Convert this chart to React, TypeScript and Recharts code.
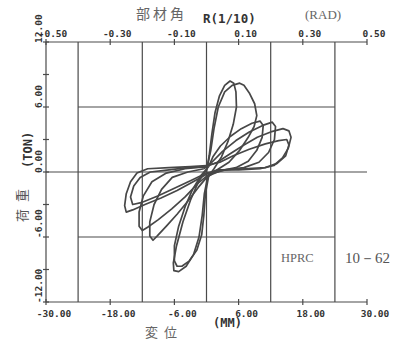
import { LineChart, Line, XAxis, YAxis, ReferenceLine } from 'recharts';

// displacement (mm) / load (ton) pairs, one array per loading cycle
const cycle1: [number, number][] = [
  [0, 0], [0.5, 1.5], [1.0, 3.5], [1.6, 5.5], [2.4, 7.0], [3.4, 8.0], [4.4, 8.4], [5.1, 8.2],
  [5.5, 7.4], [5.6, 6.0], [5.0, 4.4], [4.0, 2.8], [2.8, 1.4], [1.4, 0.3], [0.2, -0.5],
  [-0.4, -2.0], [-0.8, -4.0], [-1.4, -6.0], [-2.4, -7.6], [-3.8, -8.7], [-5.2, -9.2],
  [-6.1, -9.1], [-6.2, -8.4], [-5.6, -6.8], [-4.4, -4.6], [-3.0, -2.6], [-1.5, -0.9], [0, 0.2],
];
const cycle2: [number, number][] = [
  [0, 0.2], [0.8, 2.0], [1.4, 4.0], [2.2, 6.0], [3.4, 7.4], [4.8, 8.0], [6.2, 8.2], [7.0, 8.0],
  [8.0, 7.3], [9.0, 6.3], [9.4, 5.2], [8.9, 4.2], [7.8, 3.2], [6.2, 2.0], [4.2, 0.9], [2.0, 0.2],
  [0.4, -0.4], [-0.2, -2.0], [-0.5, -4.0], [-0.9, -5.8], [-1.8, -7.2], [-3.2, -8.2], [-4.6, -8.7],
  [-5.5, -8.7], [-6.0, -8.2], [-6.0, -6.8], [-5.2, -5.0], [-4.0, -3.2], [-2.6, -1.6], [-1.0, -0.3],
  [0.4, 0.5],
];
const cycle3: [number, number][] = [
  [0.4, 0.5], [1.2, 1.4], [2.6, 2.4], [4.5, 3.3], [6.5, 4.0], [8.5, 4.5], [10.0, 4.7], [10.6, 4.3],
  [10.4, 3.2], [9.4, 2.0], [7.8, 1.0], [5.5, 0.4], [2.5, 0.1], [0.2, -0.4], [-1.5, -1.4],
  [-3.5, -2.7], [-5.5, -3.9], [-7.5, -5.0], [-9.2, -5.9], [-10.0, -6.3], [-10.6, -5.9],
  [-10.6, -4.6], [-9.8, -3.0], [-8.4, -1.6], [-6.4, -0.5], [-3.5, 0], [-0.5, 0.3],
];
const cycle4: [number, number][] = [
  [-0.5, 0.3], [1.0, 0.9], [3.0, 1.9], [5.5, 2.9], [8.0, 3.7], [10.5, 4.3], [12.3, 4.6],
  [12.9, 4.2], [12.7, 3.0], [11.6, 1.8], [9.8, 0.9], [7.0, 0.4], [3.5, 0.2], [0.5, -0.2],
  [-1.5, -1.0], [-4.0, -2.3], [-6.5, -3.4], [-9.0, -4.4], [-11.0, -5.1], [-12.0, -5.4],
  [-12.6, -5.0], [-12.6, -3.7], [-11.8, -2.2], [-10.2, -0.9], [-7.5, -0.1], [-4.0, 0.3], [0, 0.5],
];
const cycle5: [number, number][] = [
  [0, 0.5], [2.0, 0.9], [4.5, 1.7], [7.0, 2.5], [9.5, 3.2], [12.0, 3.7], [14.3, 4.0], [15.4, 3.8],
  [15.8, 3.2], [15.3, 2.2], [14.2, 1.3], [12.6, 0.6], [10.0, 0.3], [6.0, 0.2], [2.0, 0.2],
  [0, -0.2], [-2.5, -0.9], [-5.5, -1.7], [-8.5, -2.4], [-11.5, -3.0], [-13.8, -3.5], [-15.0, -3.7],
  [-15.3, -3.1], [-15.0, -2.0], [-14.2, -0.9], [-13.0, -0.1], [-11.0, 0.3], [-7.0, 0.4],
  [-3.0, 0.5], [0, 0.6],
];
const cycle6: [number, number][] = [
  [0, 0.6], [2.5, 0.9], [5.0, 1.5], [8.0, 2.1], [11.0, 2.6], [13.5, 2.9], [15.0, 3.0], [15.4, 2.5],
  [14.8, 1.5], [13.2, 0.8], [11.0, 0.4], [7.0, 0.3], [3.0, 0.2], [0, -0.1], [-3.0, -0.8],
  [-6.0, -1.5], [-9.0, -2.2], [-12.0, -2.8], [-13.8, -3.0], [-14.2, -2.3], [-13.6, -1.3],
  [-12.4, -0.5], [-10.5, 0], [-7.0, 0.2], [-3.5, 0.4], [0, 0.5],
];
const cycles = [cycle1, cycle2, cycle3, cycle4, cycle5, cycle6];

const dispTicks = [-30, -18, -6, 6, 18, 30];
const loadTicks = [-12, -9, -6, -3, 0, 3, 6, 9, 12];
const loadLabels = [-12, -6, 0, 6, 12];
const gridX = [-24, -12, 0, 12, 24];
const gridY = [-6, 6];

const INK = '#4a4a4a';
const MONO = '"DejaVu Sans Mono", monospace';
const CJK = '"Noto Sans CJK JP", sans-serif';
const SERIF = '"Liberation Serif", serif';

const BottomTick = ({ x, y, payload }: any) => (
  <g>
    <line x1={x} x2={x} y1={y - 3} y2={y + 3} stroke={INK} strokeWidth={1.2} />
    <text x={x + 8} y={y + 15} textAnchor="middle" fontFamily={MONO} fontWeight="bold" fontSize={9.5} fill="#333">
      {payload.value.toFixed(2)}
    </text>
  </g>
);

const TopTick = ({ x, y, payload }: any) => (
  <g>
    <line x1={x} x2={x} y1={y - 3} y2={y + 3} stroke={INK} strokeWidth={1.2} />
    <text x={x + 7} y={y - 5} textAnchor="middle" fontFamily={MONO} fontWeight="bold" fontSize={9.5} fill="#333">
      {(payload.value / 60).toFixed(2)}
    </text>
  </g>
);

const LeftTick = ({ x, y, payload }: any) => (
  <g>
    <line x1={x - 3} x2={x + 3} y1={y} y2={y} stroke={INK} strokeWidth={1.2} />
    {loadLabels.includes(payload.value) && (
      <text
        transform={`translate(${x - 4},${y + 1}) rotate(-90)`}
        textAnchor="start"
        fontFamily={MONO}
        fontWeight="bold"
        fontSize={9.5}
        fill="#333"
      >
        {payload.value.toFixed(2)}
      </text>
    )}
  </g>
);

export default function App() {
  return (
    <div style={{ position: 'absolute', left: 0, top: 0, width: 406, height: 340, background: '#fff' }}>
      <LineChart width={406} height={340} margin={{ top: 0, right: 39, bottom: 0, left: 0 }}>
        <XAxis
          type="number"
          dataKey="d"
          domain={[-30, 30]}
          ticks={dispTicks}
          height={38}
          tickSize={0}
          tickMargin={0}
          tick={<BottomTick />}
          stroke={INK}
          strokeWidth={1.2}
          allowDataOverflow
        />
        <XAxis
          xAxisId="top"
          orientation="top"
          type="number"
          dataKey="d"
          domain={[-30, 30]}
          ticks={dispTicks}
          height={42}
          tickSize={0}
          tickMargin={0}
          tick={<TopTick />}
          stroke={INK}
          strokeWidth={1.2}
          allowDataOverflow
        />
        <YAxis
          type="number"
          dataKey="p"
          domain={[-12, 12]}
          ticks={loadTicks}
          width={46}
          tickSize={0}
          tickMargin={0}
          tick={<LeftTick />}
          stroke={INK}
          strokeWidth={1.2}
          allowDataOverflow
        />

        {gridX.map((v) => (
          <ReferenceLine key={`gx${v}`} x={v} stroke={INK} strokeWidth={1.2} />
        ))}
        {gridY.map((v) => (
          <ReferenceLine
            key={`gy${v}`}
            segment={[{ x: -24, y: v }, { x: 24, y: v }]}
            stroke={INK}
            strokeWidth={1.2}
          />
        ))}
        <ReferenceLine y={0} stroke={INK} strokeWidth={1.2} />

        {cycles.map((c, i) => (
          <Line
            key={i}
            data={c.map(([d, p]) => ({ d, p }))}
            dataKey="p"
            type="linear"
            stroke="#474747"
            strokeWidth={1.7}
            strokeLinejoin="round"
            dot={false}
            activeDot={false}
            isAnimationActive={false}
          />
        ))}

        <text x={136} y={19} fontFamily={CJK} fontSize={14} letterSpacing={3} fill="#666">部材角</text>
        <text x={203} y={23} fontFamily={MONO} fontWeight="bold" fontSize={12.5} fill="#333">R(1/10)</text>
        <text x={305} y={19} fontFamily={SERIF} fontSize={13} fill="#666">(RAD)</text>
        <text x={145} y={337} fontFamily={CJK} fontSize={13} letterSpacing={6} fill="#666">変位</text>
        <text x={213} y={327} fontFamily={MONO} fontWeight="bold" fontSize={12} fill="#333">(MM)</text>
        <text transform="translate(27,222) rotate(-90)" fontFamily={CJK} fontSize={13} letterSpacing={7} fill="#555">荷重</text>
        <text transform="translate(32,168) rotate(-90)" fontFamily={MONO} fontWeight="bold" fontSize={12} fill="#333">(TON)</text>
        <text x={281} y={262} fontFamily={SERIF} fontSize={12.5} fill="#666">HPRC</text>
        <text x={345} y={263} fontFamily={SERIF} fontSize={15} fill="#555">10－62</text>
      </LineChart>
    </div>
  );
}
